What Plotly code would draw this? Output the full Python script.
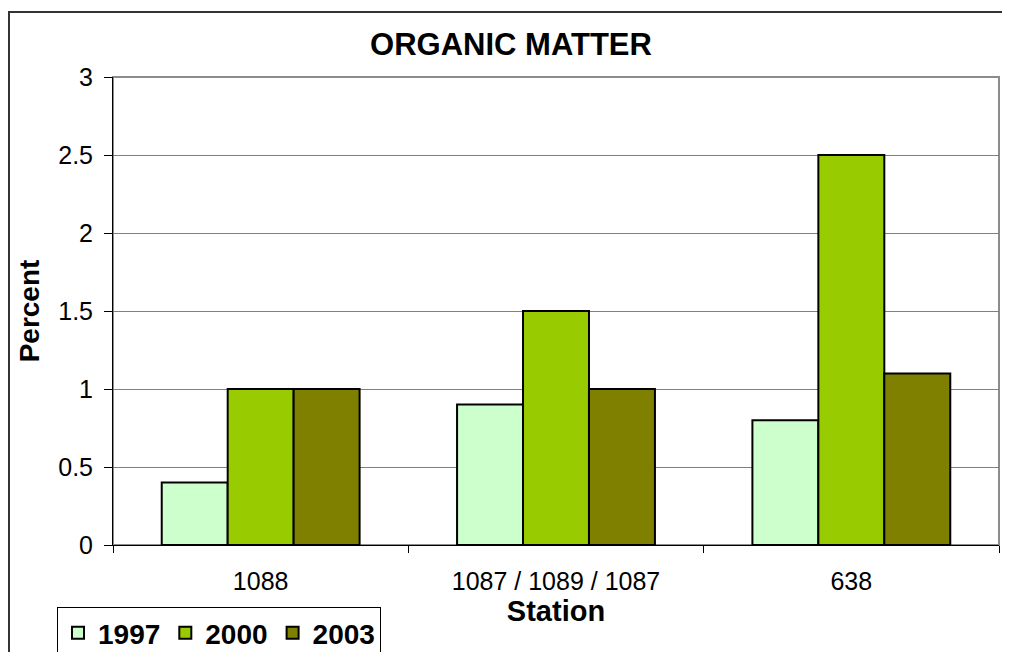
import plotly.graph_objects as go

stations = ["1088", "1087 / 1089 / 1087", "638"]
years = ["1997", "2000", "2003"]
values_1997 = [0.4, 0.9, 0.8]
values_2000 = [1.0, 1.5, 2.5]
values_2003 = [1.0, 1.0, 1.1]
colors = ["#CCFFCC", "#99CC00", "#808000"]

fig = go.Figure()
for name, vals, col in zip(years, [values_1997, values_2000, values_2003], colors):
    fig.add_trace(go.Bar(x=stations, y=vals, name="<b>" + name + "</b>", marker_color=col,
                         marker_line_color="black", marker_line_width=2))

# plot area border (gray) and outer chart border
fig.add_shape(type="rect", xref="paper", yref="paper", x0=0, x1=1, y0=0, y1=1,
              line=dict(color="#8c8c8c", width=2), layer="below")
fig.add_shape(type="rect", xref="paper", yref="paper", x0=-0.1174, x1=1.03, y0=-0.25, y1=1.139,
              line=dict(color="#333333", width=2))

# page body has an 8px margin, so the figure is 8px smaller than the window
fig.update_layout(
    width=1002, height=644,
    margin=dict(l=105, r=11, t=69, b=107, autoexpand=False),
    paper_bgcolor="white", plot_bgcolor="white",
    font=dict(family="Liberation Sans, Arial", size=25, color="black"),
    title=dict(text="<b>ORGANIC MATTER</b>", x=0.502, xanchor="center", y=0.944, yanchor="middle",
               font=dict(size=31)),
    barmode="group", bargap=0.33, bargroupgap=0,
    legend=dict(orientation="h", x=-0.0632, y=-0.1325, xanchor="left", yanchor="top",
                bordercolor="black", borderwidth=1, font=dict(size=28),
                itemwidth=30, traceorder="normal", tracegroupgap=0),
    showlegend=True,
)
fig.update_xaxes(showline=True, linecolor="black", linewidth=1, ticks="outside", tickson="boundaries",
                 ticklen=7, tickcolor="black", automargin=False, ticklabelstandoff=14,
                 title=dict(text="<b>Station</b>", standoff=0, font=dict(size=29)))
fig.update_yaxes(range=[0, 3], dtick=0.5, showline=True, linecolor="black", linewidth=1,
                 ticks="outside", ticklen=8, tickcolor="black", showgrid=True, gridcolor="#808080",
                 gridwidth=1, zeroline=False, automargin=False, ticklabelstandoff=6,
                 title=dict(text="<b>Percent</b>", standoff=10, font=dict(size=28)))

fig.write_html("out.html")
